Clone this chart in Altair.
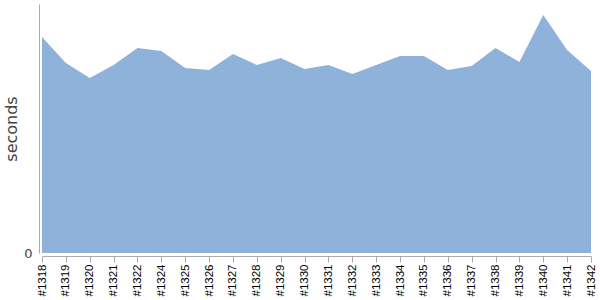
import altair as alt
import pandas as pd

builds = ["#1318", "#1319", "#1320", "#1321", "#1322", "#1324", "#1325", "#1326",
          "#1327", "#1328", "#1329", "#1330", "#1331", "#1332", "#1333", "#1334",
          "#1335", "#1336", "#1337", "#1338", "#1339", "#1340", "#1341", "#1342"]
seconds = [216, 190, 175, 188, 205, 202, 185, 183,
           199, 188, 195, 184, 188, 179, 188, 197,
           197, 183, 187, 205, 191, 238, 203, 182]

df = pd.DataFrame({"build": builds, "seconds": seconds})

chart = alt.Chart(df).mark_area(color="#8fb2da", opacity=1).encode(
    x=alt.X("build:N", sort=builds, title=None,
            scale=alt.Scale(type="point", padding=0),
            axis=alt.Axis(labelAngle=-90, labelFont="Liberation Sans", labelFontSize=11.5,
                          labelColor="#000", domainColor="#aaaaaa", tickColor="#aaaaaa",
                          tickSize=6, offset=3, labelPadding=2, labelAlign="right",
                          labelBaseline="middle", grid=False)),
    y=alt.Y("seconds:Q", title="seconds",
            scale=alt.Scale(domain=[0, 249], nice=False),
            axis=alt.Axis(values=[0], ticks=False, grid=False, offset=3,
                          domainColor="#aaaaaa", labelColor="#444", labelFontSize=13,
                          labelFont="DejaVu Sans", labelPadding=7,
                          titleFont="DejaVu Sans", titleFontSize=16, titleFontWeight="normal",
                          titleColor="#444", titlePadding=4)),
).properties(
    width=549, height=249,
    autosize=alt.AutoSizeParams(type="none"),
    padding={"left": 42, "top": 4, "right": 9, "bottom": 47},
).configure_view(stroke=None)

chart.save("out.html", embed_options={"renderer": "svg", "actions": False})
